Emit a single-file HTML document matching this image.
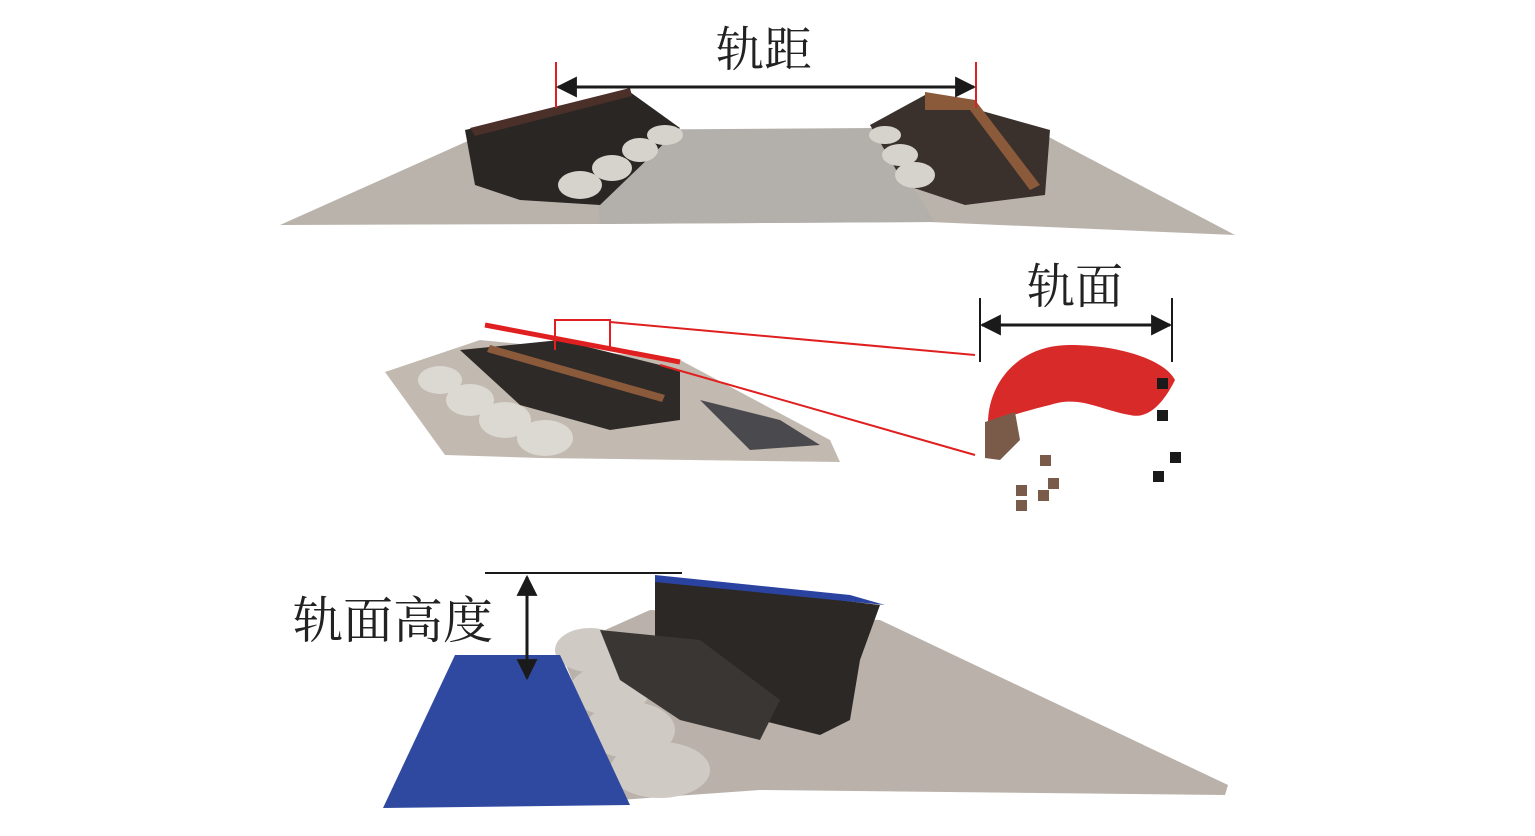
<!DOCTYPE html>
<html><head><meta charset="utf-8"><style>
html,body{margin:0;padding:0;background:#fff;width:1535px;height:836px;overflow:hidden}
text{font-family:"Liberation Serif","Noto Serif CJK SC","Noto Sans CJK SC",serif;fill:#222}
</style></head><body>
<svg width="1535" height="836" viewBox="0 0 1535 836" xmlns="http://www.w3.org/2000/svg">
<defs>
<marker id="ah" viewBox="0 0 10 10" refX="9" refY="5" markerWidth="7" markerHeight="7" orient="auto-start-reverse"><path d="M0,0 L10,5 L0,10 z" fill="#1a1a1a"/></marker>
</defs>
<!-- TOP -->
<polygon points="280,225 470,140 1045,135 1235,235 930,222 600,224" fill="#bab3ab"/>
<polygon points="590,130 875,128 935,222 600,224" fill="#b3b0ac"/>
<polygon points="465,130 630,92 680,128 600,205 520,200 475,185" fill="#2a2624"/>
<polygon points="470,128 630,88 632,96 475,136" fill="#4a3028"/>
<g fill="#d6d2cc"><ellipse cx="665" cy="135" rx="18" ry="10"/><ellipse cx="640" cy="150" rx="18" ry="12"/><ellipse cx="612" cy="168" rx="20" ry="13"/><ellipse cx="580" cy="185" rx="22" ry="14"/></g>
<polygon points="870,125 925,95 1050,130 1045,195 965,205 905,185" fill="#3a312c"/>
<polygon points="925,92 975,100 1040,185 1030,190 970,110 925,110" fill="#8a5a3a"/>
<g fill="#d6d2cc"><ellipse cx="885" cy="135" rx="16" ry="9"/><ellipse cx="900" cy="155" rx="18" ry="11"/><ellipse cx="915" cy="175" rx="20" ry="13"/></g>
<line x1="556" y1="62" x2="556" y2="108" stroke="#e02020" stroke-width="2"/>
<line x1="976" y1="62" x2="976" y2="108" stroke="#e02020" stroke-width="2"/>
<line x1="558" y1="87" x2="974" y2="87" stroke="#1a1a1a" stroke-width="3" marker-start="url(#ah)" marker-end="url(#ah)"/>
<text x="764" y="66" font-size="48" text-anchor="middle">轨距</text>
<!-- MIDDLE -->
<polygon points="385,372 480,340 680,360 830,440 840,462 540,458 445,455" fill="#c2bab0"/>
<g fill="#dcd8d2"><ellipse cx="440" cy="380" rx="22" ry="14"/><ellipse cx="470" cy="400" rx="24" ry="16"/><ellipse cx="505" cy="420" rx="26" ry="18"/><ellipse cx="545" cy="438" rx="28" ry="18"/></g>
<polygon points="460,350 560,340 680,370 680,420 610,430 520,405" fill="#2e2a28"/>
<polygon points="490,345 665,395 662,402 487,352" fill="#8a5a3a"/>
<polygon points="700,400 780,420 820,445 750,450" fill="#4a4a4e"/>
<line x1="485" y1="325" x2="680" y2="362" stroke="#e02020" stroke-width="5"/>
<polyline points="555,350 555,320 610,320 610,350" fill="none" stroke="#e02020" stroke-width="2"/>
<line x1="610" y1="322" x2="975" y2="355" stroke="#e02020" stroke-width="2"/>
<line x1="660" y1="365" x2="975" y2="455" stroke="#e02020" stroke-width="2"/>
<path d="M988,420 C990,380 1020,345 1070,345 C1120,345 1165,360 1175,380 C1165,400 1150,420 1130,415 C1100,410 1080,395 1050,405 C1020,412 1000,420 988,422 Z" fill="#d92a2a"/>
<polygon points="985,422 1015,412 1020,440 1000,460 985,458" fill="#7a5a48"/>
<g fill="#7a5a48"><rect x="1040" y="455" width="11" height="11"/><rect x="1048" y="478" width="11" height="11"/><rect x="1016" y="485" width="11" height="11"/><rect x="1038" y="490" width="11" height="11"/><rect x="1016" y="500" width="11" height="11"/></g>
<g fill="#1a1a1a"><rect x="1157" y="378" width="11" height="11"/><rect x="1157" y="410" width="11" height="11"/><rect x="1170" y="452" width="11" height="11"/><rect x="1153" y="471" width="11" height="11"/></g>
<line x1="980" y1="298" x2="980" y2="362" stroke="#1a1a1a" stroke-width="2"/>
<line x1="1172" y1="298" x2="1172" y2="362" stroke="#1a1a1a" stroke-width="2"/>
<line x1="982" y1="325" x2="1170" y2="325" stroke="#1a1a1a" stroke-width="3" marker-start="url(#ah)" marker-end="url(#ah)"/>
<text x="1075" y="303" font-size="48" text-anchor="middle">轨面</text>
<!-- BOTTOM -->
<polygon points="560,650 650,610 880,620 1228,785 1225,795 760,790 620,800" fill="#bab2aa"/>
<g fill="#cfcac4"><ellipse cx="590" cy="650" rx="35" ry="22"/><ellipse cx="610" cy="690" rx="40" ry="25"/><ellipse cx="630" cy="730" rx="45" ry="28"/><ellipse cx="660" cy="770" rx="50" ry="28"/></g>
<polygon points="655,578 880,605 860,660 850,720 820,735 740,715 700,680 655,640" fill="#2c2826"/>
<polygon points="600,630 700,640 780,700 760,740 680,720 620,680" fill="#3a3634"/>
<polygon points="655,575 850,595 885,605 655,582" fill="#2b43a0"/>
<polygon points="455,655 560,655 630,805 383,808" fill="#2f49a0"/>
<line x1="485" y1="573" x2="682" y2="573" stroke="#1a1a1a" stroke-width="2"/>
<line x1="527" y1="577" x2="527" y2="678" stroke="#1a1a1a" stroke-width="3" marker-start="url(#ah)" marker-end="url(#ah)"/>
<text x="393" y="638" font-size="50" text-anchor="middle">轨面高度</text>
</svg>
</body></html>
